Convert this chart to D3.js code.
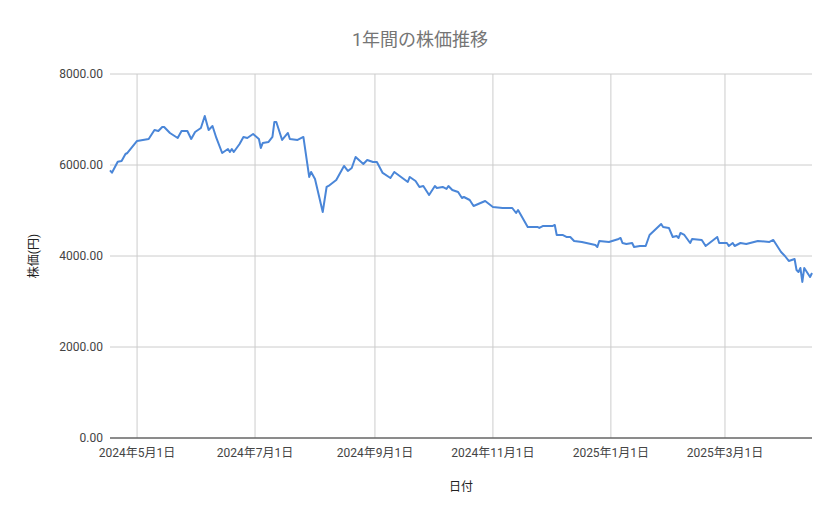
<!DOCTYPE html>
<html><head><meta charset="utf-8">
<script src="https://cdn.jsdelivr.net/npm/d3@7"></script>
<style>body{margin:0;background:#fff}text{font-family:Roboto,"Noto Sans CJK JP",sans-serif}</style>
</head><body><svg id="c" width="839" height="519"></svg>
<script>
// days from 2024-05-01
const baseDate = "2024-05-01";
const dayOffsets = [-14,-13,-10,-8,-6,-5,0,6,9,11,13,14,17,21,23,26,28,30,33,35,37,39,41,44,47,48,49,50,53,55,57,60,63,64,65,68,70,71,72,75,78,79,83,86,89,90,92,96,98,99,103,107,109,111,113,117,119,122,124,127,131,133,140,141,144,146,148,151,154,155,158,160,161,163,166,168,169,172,174,180,184,189,190,194,196,197,202,207,208,210,215,216,217,220,222,224,226,230,237,238,239,244,249,250,251,253,256,257,260,263,265,271,272,275,277,279,280,281,283,286,287,292,294,300,301,305,306,308,309,312,315,321,327,329,333,335,337,340,341,342,343,344,345,348,349];
const prices = [5880,5831,6073,6088,6242,6264,6528,6572,6770,6748,6836,6836,6704,6594,6748,6748,6572,6726,6814,7078,6770,6858,6594,6264,6352,6286,6352,6286,6462,6616,6594,6682,6572,6374,6484,6506,6616,6946,6946,6550,6704,6572,6550,6616,5737,5847,5693,4967,5517,5539,5671,5979,5869,5935,6176,6022,6110,6066,6066,5825,5715,5847,5627,5737,5649,5517,5539,5341,5539,5495,5517,5473,5539,5451,5407,5275,5297,5231,5099,5209,5077,5055,5055,5055,4945,5011,4638,4638,4616,4660,4660,4682,4462,4462,4418,4418,4330,4308,4242,4198,4330,4308,4374,4396,4286,4264,4286,4198,4220,4220,4462,4704,4638,4616,4418,4440,4396,4506,4462,4286,4374,4352,4220,4418,4286,4286,4220,4286,4220,4286,4264,4330,4308,4352,4088,4000,3891,3934,3693,3649,3737,3429,3737,3539,3627,3869];
const yTicks = [0,2000,4000,6000,8000];
const xTickDates = ["2024-05-01","2024-07-01","2024-09-01","2024-11-01","2025-01-01","2025-03-01"];

const parse = d3.utcParse("%Y-%m-%d");
const base = parse(baseDate);
const data = dayOffsets.map((d,i) => ({date: d3.utcDay.offset(base, d), v: prices[i]}));

const L = 110, R = 812, T = 74, B = 438;
const svg = d3.select("#c");
const x = d3.scaleUtc().domain(d3.extent(data, d => d.date)).range([L, R]);
const y = d3.scaleLinear().domain([0, 8000]).range([B, T]);

svg.append("text").attr("x", 420).attr("y", 46).attr("text-anchor", "middle")
  .attr("font-size", 18).attr("fill", "#757575").text("1年間の株価推移");

svg.append("g").selectAll("line").data(yTicks).join("line")
  .attr("x1", L).attr("x2", R).attr("y1", d => y(d)).attr("y2", d => y(d))
  .attr("stroke", "#cccccc");
svg.append("g").selectAll("line").data(xTickDates.map(parse)).join("line")
  .attr("x1", d => x(d)).attr("x2", d => x(d)).attr("y1", T).attr("y2", B)
  .attr("stroke", "#cccccc");
svg.append("line").attr("x1", L).attr("x2", R).attr("y1", B).attr("y2", B).attr("stroke", "#333");

svg.append("g").selectAll("text").data(yTicks).join("text")
  .attr("x", 103).attr("y", d => y(d) + 4).attr("text-anchor", "end")
  .attr("font-size", 12).attr("fill", "#444").text(d => d3.format(".2f")(d));
const fmt = d => `${d.getUTCFullYear()}年${d.getUTCMonth()+1}月${d.getUTCDate()}日`;
svg.append("g").selectAll("text").data(xTickDates.map(parse)).join("text")
  .attr("x", d => x(d)).attr("y", 457).attr("text-anchor", "middle")
  .attr("font-size", 12).attr("fill", "#444").text(fmt);

svg.append("text").attr("x", 461).attr("y", 491).attr("text-anchor", "middle")
  .attr("font-size", 12).attr("fill", "#222").text("日付");
svg.append("text").attr("transform", "translate(38,256) rotate(-90)").attr("text-anchor", "middle")
  .attr("font-size", 12).attr("fill", "#222").text("株価(円)");

svg.append("path").datum(data)
  .attr("fill", "none").attr("stroke", "#4a86d8").attr("stroke-width", 2).attr("stroke-linejoin", "round")
  .attr("d", d3.line().x(d => x(d.date)).y(d => y(d.v)));
</script></body></html>
